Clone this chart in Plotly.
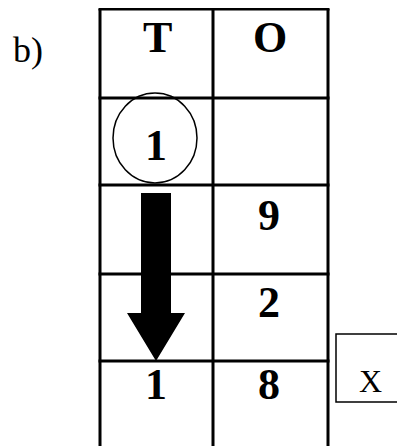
import plotly.graph_objects as go

# Data (place-value table)
label = "b)"
headers = ["T", "O"]
tens_digits = ["1", "", "", "1"]      # circled carry, blank, blank, result
ones_digits = ["", "9", "2", "8"]
operation = "X"

W, H = 405, 446
OFF = 8  # page body margin
col_x = [100, 213, 328]
row_y = [9, 98, 185, 274, 361, 470]

fig = go.Figure()
shapes = []
for x in col_x:
    shapes.append(dict(type="line", x0=x, x1=x, y0=row_y[0], y1=row_y[-1], line=dict(color="black", width=3)))
for y in row_y[:-1]:
    shapes.append(dict(type="line", x0=col_x[0] - 1.5, x1=col_x[-1] + 1.5, y0=y, y1=y, line=dict(color="black", width=3)))
shapes.append(dict(type="circle", x0=113, x1=197, y0=93, y1=183, line=dict(color="black", width=1.5)))
shapes.append(dict(type="path",
                   path="M141,193 L171,193 L171,313 L185,313 L156,361 L127,313 L141,313 Z",
                   fillcolor="black", line=dict(color="black", width=0)))
shapes.append(dict(type="rect", x0=336, x1=440, y0=334, y1=402, line=dict(color="black", width=1.5)))

font_b = dict(family="Liberation Serif", size=44, color="black")
ann = []
ann.append(dict(x=28, y=50, text=label, showarrow=False,
                font=dict(family="Liberation Serif", size=36, color="black")))
col_cx = [157, 270]
for i, h in enumerate(headers):
    ann.append(dict(x=col_cx[i], y=37, text="<b>%s</b>" % h, showarrow=False, font=font_b))
row_cy = [145, 215, 302, 384]
for r in range(4):
    if tens_digits[r]:
        ann.append(dict(x=156, y=row_cy[r], text="<b>%s</b>" % tens_digits[r], showarrow=False, font=font_b))
    if ones_digits[r]:
        ann.append(dict(x=269, y=row_cy[r], text="<b>%s</b>" % ones_digits[r], showarrow=False, font=font_b))
ann.append(dict(x=370, y=381, text=operation, showarrow=False,
                font=dict(family="Liberation Serif", size=32, color="black")))

fig.update_layout(
    width=W, height=H, margin=dict(l=0, r=0, t=0, b=0),
    paper_bgcolor="white", plot_bgcolor="white",
    xaxis=dict(range=[OFF, W + OFF], visible=False, fixedrange=True),
    yaxis=dict(range=[H + OFF, OFF], visible=False, fixedrange=True),
    shapes=shapes, annotations=ann, showlegend=False,
)
fig.write_html("out.html", config={"displayModeBar": False})
